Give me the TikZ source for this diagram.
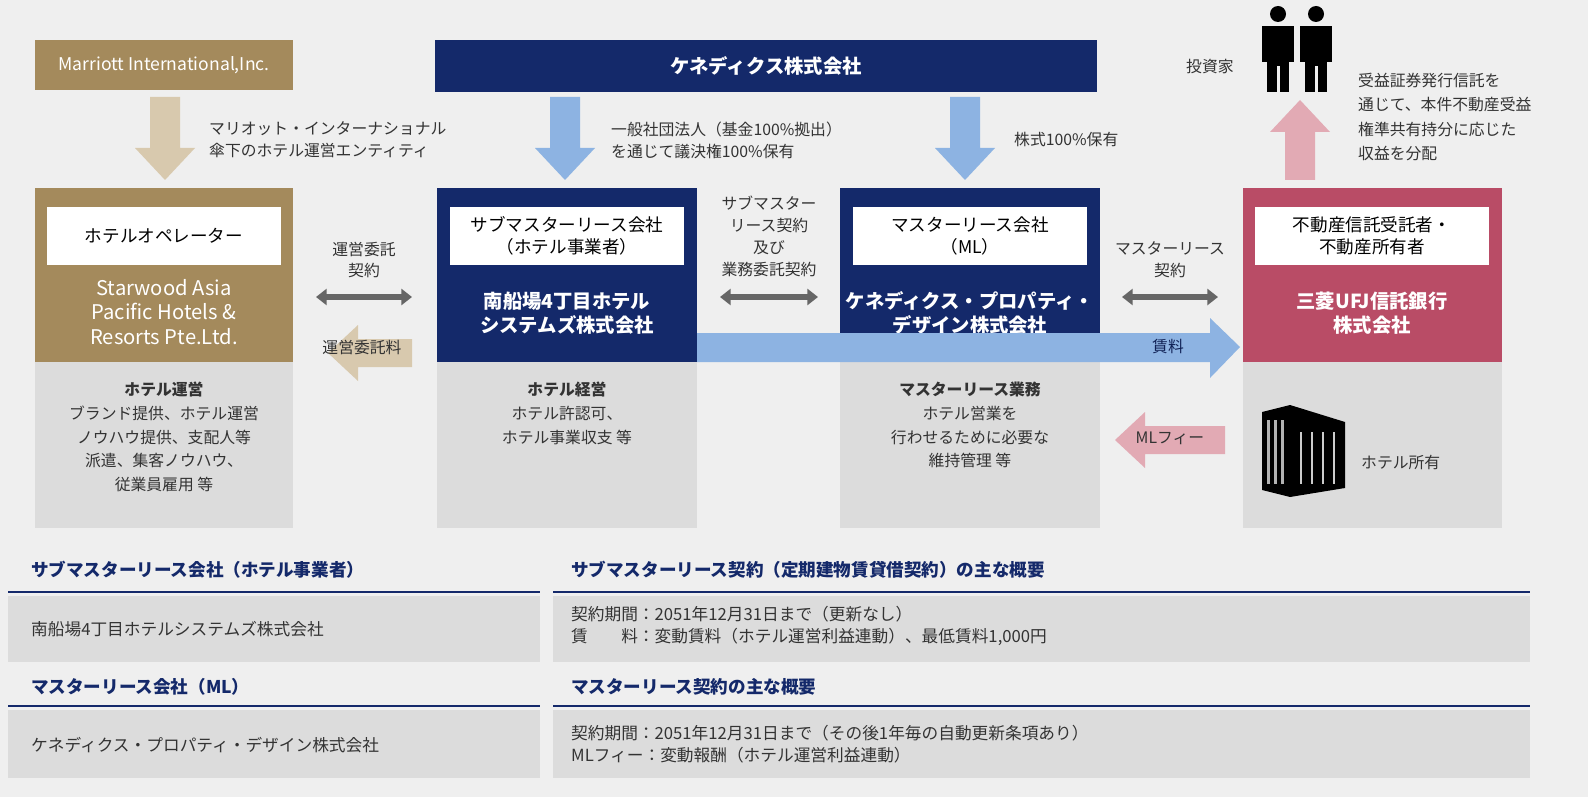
\documentclass[tikz,border=0pt]{standalone}
\usepackage{fontspec}
\setmainfont{Noto Sans CJK JP}
\usetikzlibrary{arrows.meta}
\definecolor{bg}{HTML}{EFEFEF}
\definecolor{tan}{HTML}{A48A5C}
\definecolor{tanl}{HTML}{D8C9AE}
\definecolor{navy}{HTML}{14296A}
\definecolor{pink}{HTML}{B94C66}
\definecolor{pinkl}{HTML}{E2AAB4}
\definecolor{bluel}{HTML}{8DB3E2}
\definecolor{grayb}{HTML}{DCDCDC}
\definecolor{txt}{HTML}{333333}
\newcommand\blkdown[4]{\fill[#4] (#1-15,#2) -- (#1+15,#2) -- (#1+15,#3-32) -- (#1+30,#3-32) -- (#1,#3) -- (#1-30,#3-32) -- (#1-15,#3-32) -- cycle;}
\newcommand\blkleft[4]{\fill[#4] (#1,#3-14) -- (#2+30,#3-14) -- (#2+30,#3-28) -- (#2,#3) -- (#2+30,#3+28) -- (#2+30,#3+14) -- (#1,#3+14) -- cycle;}
\tikzset{
 lab/.style={font=\fontsize{9}{12.5}\selectfont, text=txt, align=left, anchor=west},
 labc/.style={font=\fontsize{9}{12.5}\selectfont, text=txt, align=center},
 wbox/.style={fill=white, minimum width=4.7cm, minimum height=1.16cm, align=center, font=\fontsize{10}{12.5}\selectfont, text=black},
 ctit/.style={font=\bfseries\fontsize{11}{14}\selectfont, text=white, align=center},
 gtxt/.style={font=\fontsize{9}{13.5}\selectfont, text=txt, align=center, anchor=north},
 dbl/.style={{Triangle[width=9pt,length=6pt]}-{Triangle[width=9pt,length=6pt]}, line width=3pt, draw=gray!80!black},
 hdr/.style={font=\bfseries\fontsize{10}{12}\selectfont, text=navy, anchor=west},
 row/.style={font=\fontsize{9.5}{12.5}\selectfont, text=txt, anchor=west, align=left},
}
\begin{document}
\begin{tikzpicture}[x=0.02cm,y=-0.02cm]
\useasboundingbox (0,0) rectangle (1588,797);
\clip (0,0) rectangle (1588,797);
\fill[bg] (0,0) rectangle (1588,797);
% top boxes
\node[fill=tan, minimum width=5.16cm, minimum height=1cm, text=white, font=\fontsize{10}{12}\selectfont] (mar) at (164,65) {Marriott International,Inc.};
\node[fill=navy, minimum width=13.24cm, minimum height=1.04cm, text=white, font=\bfseries\fontsize{11}{12}\selectfont] (ken) at (766,66) {ケネディクス株式会社};
% vertical arrows
\blkdown{165}{97}{180}{tanl}
\blkdown{565}{97}{180}{bluel}
\blkdown{965}{97}{180}{bluel}
\fill[pinkl] (1285,180) -- (1315,180) -- (1315,132) -- (1330,132) -- (1300,100) -- (1270,132) -- (1285,132) -- cycle;
\node[lab] at (203,140) {マリオット・インターナショナル\\傘下のホテル運営エンティティ};
\node[lab] at (605,140) {一般社団法人（基金100\%拠出）\\を通じて議決権100\%保有};
\node[lab] at (1008,140) {株式100\%保有};
% investors
\foreach \px in {1278,1316}{
 \fill[black] (\px,14) circle (8);
 \fill[black] (\px-16,26) rectangle (\px+16,62);
 \fill[black] (\px-11,62) rectangle (\px+11,92);
 \fill[bg] (\px-1.5,66) rectangle (\px+1.5,92);
}
\node[lab] at (1180,67) {投資家};
\node[lab, font=\fontsize{9}{14}\selectfont] at (1352,117) {受益証券発行信託を\\通じて、本件不動産受益\\権準共有持分に応じた\\収益を分配};
% columns
\fill[grayb] (35,362) rectangle (293,528);
\fill[grayb] (437,362) rectangle (697,528);
\fill[grayb] (840,362) rectangle (1100,528);
\fill[grayb] (1243,362) rectangle (1502,528);
\fill[tan] (35,188) rectangle (293,362);
\fill[navy] (437,188) rectangle (697,362);
\fill[navy] (840,188) rectangle (1100,362);
\fill[pink] (1243,188) rectangle (1502,362);
\node[wbox] (w1) at (164,236) {ホテルオペレーター};
\node[wbox] (w2) at (567,236) {サブマスターリース会社\\（ホテル事業者）};
\node[wbox] (w3) at (970,236) {マスターリース会社\\（ML）};
\node[wbox] (w4) at (1372,236) {不動産信託受託者・\\不動産所有者};
\node[ctit, font=\fontsize{11.5}{14}\selectfont] (c1) at (164,312) {Starwood Asia\\Pacific Hotels \&\\Resorts Pte.Ltd.};
\node[ctit] (c2) at (567,313) {南船場4丁目ホテル\\システムズ株式会社};
\node[ctit] (c3) at (970,313) {ケネディクス・プロパティ・\\デザイン株式会社};
\node[ctit] (c4) at (1372,313) {三菱UFJ信託銀行\\株式会社};
\node[gtxt] (g1) at (164,376) {\textbf{ホテル運営}\\ブランド提供、ホテル運営\\ノウハウ提供、支配人等\\派遣、集客ノウハウ、\\従業員雇用 等};
\node[gtxt] (g2) at (567,376) {\textbf{ホテル経営}\\ホテル許認可、\\ホテル事業収支 等};
\node[gtxt] (g3) at (970,376) {\textbf{マスターリース業務}\\ホテル営業を\\行わせるために必要な\\維持管理 等};
% big blue arrow
\fill[bluel] (697,333) -- (1210,333) -- (1210,318) -- (1240,347) -- (1210,378) -- (1210,362) -- (697,362) -- cycle;
\node[labc, text=navy!80!black] at (1168,347) {賃料};
% left arrows
\blkleft{412}{328}{353}{tanl}
\node[labc] at (362,347) {運営委託料};
\blkleft{1225}{1115}{440}{pinkl}
\node[labc] at (1170,438) {MLフィー};
% double arrows
\draw[dbl] (316,297) -- (412,297);
\node[labc] at (364,260) {運営委託\\契約};
\draw[dbl] (720,297) -- (818,297);
\node[labc] at (769,236) {サブマスター\\リース契約\\及び\\業務委託契約};
\draw[dbl] (1122,297) -- (1218,297);
\node[labc] at (1170,260) {マスターリース\\契約};
% building
\fill[black] (1262,412) -- (1290,405) -- (1345,422) -- (1345,488) -- (1290,497) -- (1262,490) -- cycle;
\foreach \bx in {1267,1274,1281}{\fill[gray!60] (\bx,420) rectangle (\bx+3,484);}
\foreach \bx in {1300,1311,1322,1333}{\fill[gray!40] (\bx,432) rectangle (\bx+2,484);}
\node[lab] at (1355,462) {ホテル所有};
% table
\node[hdr] at (25,570) {サブマスターリース会社（ホテル事業者）};
\node[hdr] at (565,570) {サブマスターリース契約（定期建物賃貸借契約）の主な概要};
\draw[navy, line width=1pt] (8,592) -- (540,592);
\draw[navy, line width=1pt] (553,592) -- (1530,592);
\fill[grayb] (8,596) rectangle (540,662);
\fill[grayb] (553,596) rectangle (1530,662);
\node[row] at (25,629) {南船場4丁目ホテルシステムズ株式会社};
\node[row] at (565,626) {契約期間：2051年12月31日まで（更新なし）\\賃\hspace{2em}料：変動賃料（ホテル運営利益連動）、最低賃料1,000円};
\node[hdr] at (25,687) {マスターリース会社（ML）};
\node[hdr] at (565,687) {マスターリース契約の主な概要};
\draw[navy, line width=1pt] (8,706) -- (540,706);
\draw[navy, line width=1pt] (553,706) -- (1530,706);
\fill[grayb] (8,710) rectangle (540,778);
\fill[grayb] (553,710) rectangle (1530,778);
\node[row] at (25,745) {ケネディクス・プロパティ・デザイン株式会社};
\node[row] at (565,744) {契約期間：2051年12月31日まで（その後1年毎の自動更新条項あり）\\MLフィー：変動報酬（ホテル運営利益連動）};
\end{tikzpicture}
\end{document}
